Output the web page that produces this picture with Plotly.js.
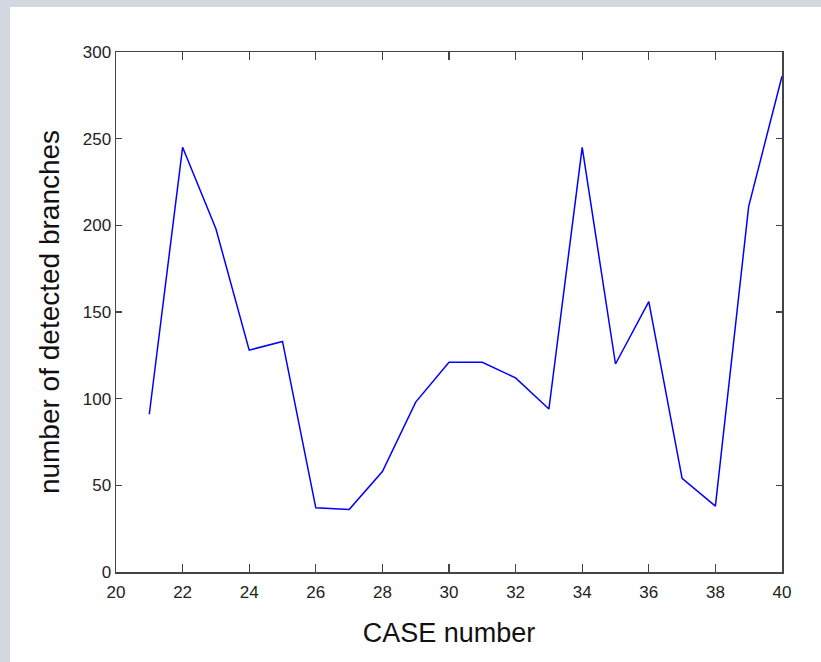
<!DOCTYPE html>
<html>
<head>
<meta charset="utf-8">
<script src="https://cdn.plot.ly/plotly-3.0.1.min.js"></script>
<style>
html,body{margin:0;padding:0;background:#d3d7e0;width:821px;height:662px;overflow:hidden;}
#chart{position:absolute;left:10px;top:7px;width:811px;height:655px;background:#fff;}
</style>
</head>
<body>
<div id="chart"></div>
<script>
const caseNumbers = [21,22,23,24,25,26,27,28,29,30,31,32,33,34,35,36,37,38,39,40];
const branches = [91,245,198,128,133,37,36,58,98,121,121,112,94,245,120,156,54,38,211,286];
const xTicks = [20,22,24,26,28,30,32,34,36,38,40];
const yTicks = [0,50,100,150,200,250,300];

const fontFam = '"Liberation Sans", Arial, Helvetica, sans-serif';

Plotly.newPlot('chart', [{
  x: caseNumbers,
  y: branches,
  type: 'scatter',
  mode: 'lines',
  line: {color: '#0000ff', width: 1.5},
  hoverinfo: 'skip'
}], {
  width: 811, height: 655,
  margin: {l: 106, r: 39, t: 45, b: 90},
  paper_bgcolor: '#ffffff',
  plot_bgcolor: '#ffffff',
  showlegend: false,
  xaxis: {
    range: [20, 40],
    tickvals: xTicks,
    ticktext: xTicks.map(String),
    ticks: 'inside', ticklen: 8, tickwidth: 1.2, tickcolor: '#444',
    showline: true, linecolor: '#444', linewidth: 1.5, mirror: 'ticks',
    showgrid: false, zeroline: false,
    ticklabelstandoff: 4,
    tickfont: {family: fontFam, size: 17, color: '#222'},
    title: {text: 'CASE number', font: {family: fontFam, size: 27, color: '#111'}, standoff: 22}
  },
  yaxis: {
    range: [0, 300],
    tickvals: yTicks,
    ticktext: yTicks.map(String),
    ticks: 'inside', ticklen: 6, tickwidth: 1.2, tickcolor: '#444',
    showline: true, linecolor: '#444', linewidth: 1.5, mirror: 'ticks',
    showgrid: false, zeroline: false,
    tickfont: {family: fontFam, size: 17, color: '#222'},
    title: {text: 'number of detected branches', font: {family: fontFam, size: 28, color: '#111'}, standoff: 15}
  }
}, {staticPlot: true, displayModeBar: false});
</script>
</body>
</html>
